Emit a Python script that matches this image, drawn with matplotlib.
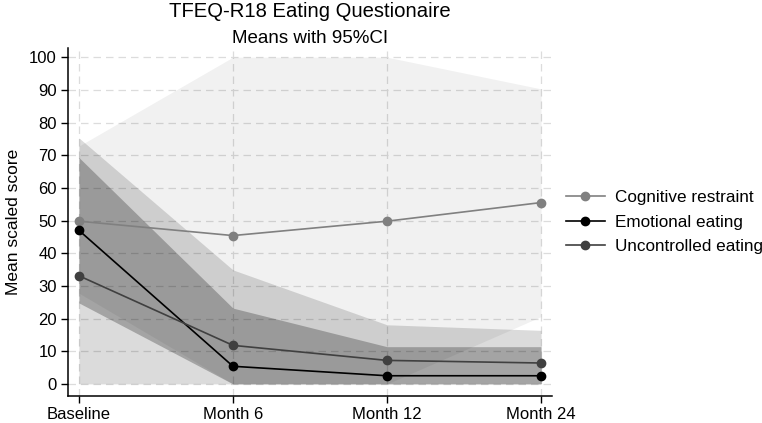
import numpy as np
import matplotlib
matplotlib.use('Agg')
import matplotlib.pyplot as plt

# --- data ---
visits = ['Baseline', 'Month 6', 'Month 12', 'Month 24']

cognitive_mean = [49.8, 45.4, 49.8, 55.5]
cognitive_lo = [27.8, 0.0, 0.0, 20.6]
cognitive_hi = [72.8, 100.0, 100.0, 90.3]

emotional_mean = [47.0, 5.4, 2.5, 2.5]
emotional_lo = [24.8, 0.0, 0.0, 0.0]
emotional_hi = [69.3, 23.2, 11.4, 11.4]

uncontrolled_mean = [33.1, 11.8, 7.2, 6.4]
uncontrolled_lo = [0.0, 0.0, 0.0, 0.0]
uncontrolled_hi = [75.3, 34.9, 18.1, 16.4]

yticks = list(range(0, 101, 10))

plt.rcParams['font.family'] = ['Liberation Sans', 'DejaVu Sans']

fig = plt.figure(figsize=(7.62, 4.23), dpi=100)
ax = fig.add_axes([0.0892, 0.0638, 0.6352, 0.8227])

x = np.arange(len(visits))

# CI bands (translucent black so overlaps darken)
ax.fill_between(x, cognitive_lo, cognitive_hi, color='black', alpha=0.055, lw=0, zorder=2)
ax.fill_between(x, uncontrolled_lo, uncontrolled_hi, color='black', alpha=0.14, lw=0, zorder=2)
ax.fill_between(x, emotional_lo, emotional_hi, color='black', alpha=0.25, lw=0, zorder=2)

ax.plot(x, cognitive_mean, color='#808080', marker='o', ms=6, lw=1.2,
        label='Cognitive restraint', zorder=4)
ax.plot(x, emotional_mean, color='black', marker='o', ms=6, lw=1.2,
        label='Emotional eating', zorder=4)
ax.plot(x, uncontrolled_mean, color='#404040', marker='o', ms=6, lw=1.2,
        label='Uncontrolled eating', zorder=4)

ax.set_xlim(-0.071, 3.071)
ax.set_ylim(-3.7, 102.8)
ax.set_xticks(x)
ax.set_xticklabels(visits, fontsize=12)
ax.set_yticks(yticks)
ax.set_yticklabels([str(v) for v in yticks], fontsize=12)
ax.tick_params(direction='out', length=5, width=1, colors='black', pad=3)

ax.grid(True, color='#dcdcdc', linestyle=(0, (6, 4)), linewidth=0.9, zorder=1)
ax.set_axisbelow(True)

for s in ['top', 'right']:
    ax.spines[s].set_visible(False)
for s in ['left', 'bottom']:
    ax.spines[s].set_linewidth(1.1)

ax.set_ylabel('Mean scaled score', fontsize=12.5, labelpad=6)

fig.text(0.4068, 0.9598, 'TFEQ-R18 Eating Questionaire', ha='center', va='baseline', fontsize=14.6)
fig.text(0.4068, 0.899, 'Means with 95%CI', ha='center', va='baseline', fontsize=13.5)

fig.legend(loc='center left', bbox_to_anchor=(0.7428, 0.475), frameon=False,
           fontsize=12.3, handlelength=2.28, handletextpad=0.6, labelspacing=0.55,
           borderpad=0, borderaxespad=0)

fig.savefig('out.png', dpi=100)
